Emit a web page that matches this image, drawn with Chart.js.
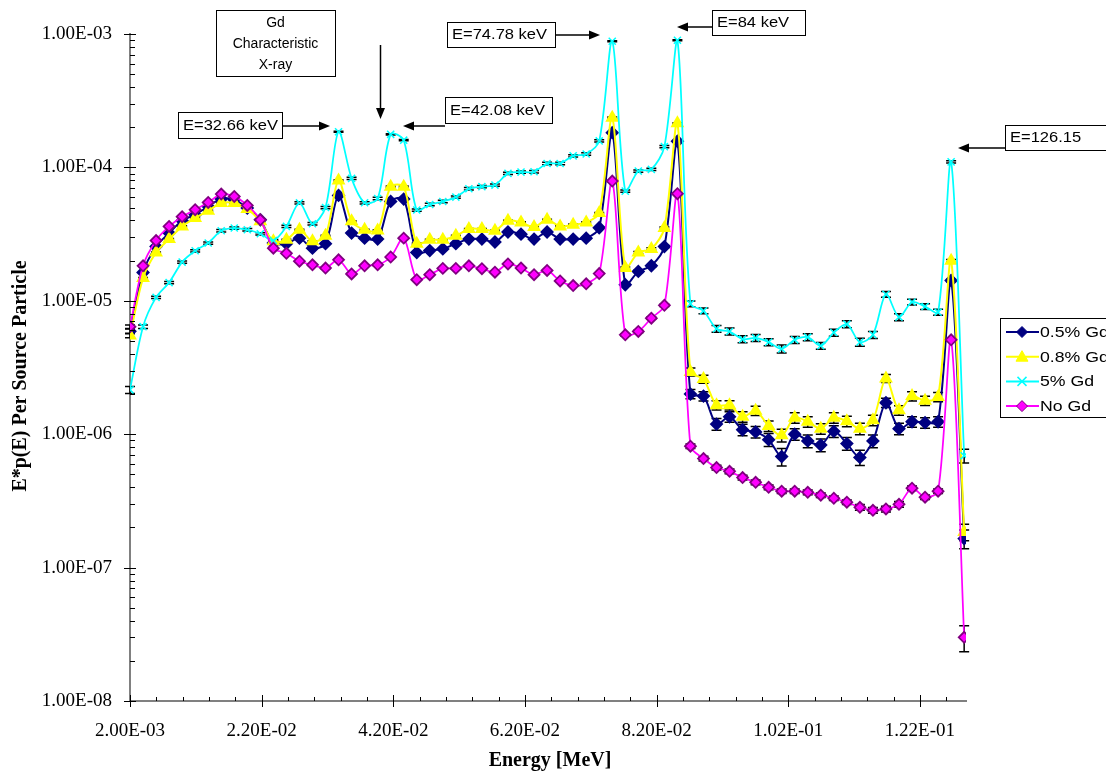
<!DOCTYPE html>
<html>
<head>
<meta charset="utf-8">
<title>Gd spectrum</title>
<style>
  html, body { margin: 0; padding: 0; background: #fff; }
  canvas { display: block; }
</style>
</head>
<body>
<canvas id="chart1" width="1106" height="772"></canvas>
<script src="https://cdn.jsdelivr.net/npm/chart.js@4.4.1/dist/chart.umd.min.js"></script>
<script>
// energy bins (MeV)
var energy = [0.00200, 0.00398, 0.00596, 0.00794, 0.00992, 0.01190, 0.01388, 0.01586, 0.01784, 0.01982,
	0.02180, 0.02378, 0.02576, 0.02774, 0.02972, 0.03170, 0.03368, 0.03566, 0.03764, 0.03962,
	0.04160, 0.04358, 0.04556, 0.04754, 0.04952, 0.05150, 0.05348, 0.05546, 0.05744, 0.05942,
	0.06140, 0.06338, 0.06536, 0.06734, 0.06932, 0.07130, 0.07328, 0.07526, 0.07724, 0.07922,
	0.08120, 0.08318, 0.08516, 0.08714, 0.08912, 0.09110, 0.09308, 0.09506, 0.09704, 0.09902,
	0.10100, 0.10298, 0.10496, 0.10694, 0.10892, 0.11090, 0.11288, 0.11486, 0.11684, 0.11882,
	0.12080, 0.12278, 0.12476, 0.12674, 0.12872];

var gd05 = [5.9e-6, 1.63e-5, 2.55e-5, 3.22e-5, 3.98e-5, 4.42e-5, 5.1e-5, 5.79e-5, 5.73e-5, 4.96e-5,
	4.05e-5, 2.71e-5, 2.68e-5, 2.95e-5, 2.48e-5, 2.68e-5, 6.17e-5, 3.22e-5, 2.95e-5, 2.9e-5,
	5.56e-5, 5.79e-5, 2.3e-5, 2.38e-5, 2.45e-5, 2.68e-5, 2.9e-5, 2.9e-5, 2.76e-5, 3.28e-5,
	3.16e-5, 2.9e-5, 3.28e-5, 2.9e-5, 2.9e-5, 2.95e-5, 3.53e-5, 1.82e-4, 1.32e-5, 1.66e-5,
	1.83e-5, 2.55e-5, 1.57e-4, 2.0e-6, 1.93e-6, 1.19e-6, 1.35e-6, 1.08e-6, 1.04e-6, 9.1e-7,
	6.8e-7, 1.0e-6, 8.9e-7, 8.3e-7, 1.05e-6, 8.5e-7, 6.7e-7, 8.9e-7, 1.72e-6, 1.10e-6,
	1.24e-6, 1.22e-6, 1.24e-6, 1.42e-5, 1.65e-7];

var gd08 = [5.5e-6, 1.48e-5, 2.3e-5, 2.9e-5, 3.61e-5, 4.17e-5, 4.73e-5, 5.41e-5, 5.41e-5, 4.88e-5,
	3.94e-5, 2.79e-5, 2.87e-5, 3.41e-5, 2.79e-5, 3.07e-5, 7.99e-5, 3.94e-5, 3.41e-5, 3.37e-5,
	7.17e-5, 7.17e-5, 2.68e-5, 2.87e-5, 2.87e-5, 3.07e-5, 3.45e-5, 3.45e-5, 3.35e-5, 3.98e-5,
	3.87e-5, 3.57e-5, 4.05e-5, 3.61e-5, 3.72e-5, 3.87e-5, 4.55e-5, 2.36e-4, 1.76e-5, 2.3e-5,
	2.45e-5, 3.51e-5, 2.14e-4, 2.93e-6, 2.59e-6, 1.65e-6, 1.65e-6, 1.35e-6, 1.5e-6, 1.15e-6,
	9.8e-7, 1.33e-6, 1.24e-6, 1.1e-6, 1.33e-6, 1.25e-6, 1.1e-6, 1.27e-6, 2.62e-6, 1.51e-6,
	1.93e-6, 1.78e-6, 1.9e-6, 2.0e-5, 1.85e-7];

var gd5 = [2.15e-6, 6.4e-6, 1.06e-5, 1.37e-5, 1.95e-5, 2.37e-5, 2.71e-5, 3.35e-5, 3.51e-5, 3.41e-5,
	3.18e-5, 2.83e-5, 3.61e-5, 5.42e-5, 3.78e-5, 5.0e-5, 1.85e-4, 8.27e-5, 5.43e-5, 5.85e-5,
	1.77e-4, 1.6e-4, 4.79e-5, 5.27e-5, 5.55e-5, 5.99e-5, 6.92e-5, 7.17e-5, 7.37e-5, 9.02e-5,
	9.22e-5, 9.28e-5, 1.07e-4, 1.07e-4, 1.22e-4, 1.26e-4, 1.58e-4, 8.83e-4, 6.64e-5, 9.38e-5,
	9.66e-5, 1.43e-4, 8.98e-4, 9.5e-6, 8.41e-6, 6.17e-6, 5.89e-6, 5.16e-6, 5.27e-6, 4.9e-6,
	4.36e-6, 5.1e-6, 5.34e-6, 4.6e-6, 5.78e-6, 6.68e-6, 4.9e-6, 5.56e-6, 1.12e-5, 7.55e-6,
	9.8e-6, 9.06e-6, 8.22e-6, 1.1e-4, 6.9e-7];

var noGd = [6.4e-6, 1.83e-5, 2.83e-5, 3.61e-5, 4.27e-5, 4.82e-5, 5.46e-5, 6.31e-5, 6.06e-5, 5.19e-5,
	4.05e-5, 2.48e-5, 2.27e-5, 1.98e-5, 1.86e-5, 1.76e-5, 2.03e-5, 1.59e-5, 1.83e-5, 1.86e-5,
	2.13e-5, 2.95e-5, 1.44e-5, 1.57e-5, 1.75e-5, 1.75e-5, 1.83e-5, 1.74e-5, 1.64e-5, 1.89e-5,
	1.76e-5, 1.57e-5, 1.69e-5, 1.41e-5, 1.30e-5, 1.34e-5, 1.6e-5, 7.9e-5, 5.56e-6, 5.89e-6,
	7.41e-6, 9.25e-6, 6.35e-5, 8.13e-7, 6.57e-7, 5.62e-7, 5.27e-7, 4.73e-7, 4.36e-7, 4.0e-7,
	3.74e-7, 3.74e-7, 3.67e-7, 3.49e-7, 3.31e-7, 3.09e-7, 2.83e-7, 2.69e-7, 2.75e-7, 2.98e-7,
	3.94e-7, 3.37e-7, 3.74e-7, 5.1e-6, 3.0e-8];

// relative statistical error, percent
var err05 = [4, 1, 1, 1, 1, 1, 1, 1, 1, 1, 1, 1, 1, 1, 1, 1, 1, 1, 1, 1,
	1, 1, 1, 1, 1, 1, 1, 1, 1, 1, 1, 1, 1, 1, 1, 1, 1, 1, 2, 2,
	2, 2, 1, 8, 8, 10, 9, 10, 10, 11, 15, 10, 11, 11, 10, 11, 13, 11, 8, 10,
	9, 9, 9, 2, 16];
var err08 = [4, 1, 1, 1, 1, 1, 1, 1, 1, 1, 1, 1, 1, 1, 1, 1, 1, 1, 1, 1,
	1, 1, 1, 1, 1, 1, 1, 1, 1, 1, 1, 1, 1, 1, 1, 1, 1, 1, 2, 2,
	2, 2, 1, 7, 7, 8, 8, 9, 8, 9, 11, 9, 9, 9, 9, 9, 10, 9, 7, 8,
	8, 8, 8, 2, 14];
var err5 = [6, 3, 2, 2, 2, 2, 2, 2, 2, 2, 2, 2, 2, 2, 2, 2, 1, 2, 2, 2,
	1, 1, 2, 2, 2, 2, 2, 2, 2, 2, 2, 2, 2, 2, 2, 2, 2, 1, 2, 2,
	2, 2, 1, 5, 5, 6, 6, 6, 6, 6, 7, 6, 6, 6, 6, 6, 7, 6, 5, 6,
	5, 5, 5, 2, 12];
var errNo = [3, 1, 1, 1, 1, 1, 1, 1, 1, 1, 1, 1, 1, 1, 1, 1, 1, 1, 1, 1,
	1, 1, 1, 1, 1, 1, 1, 1, 1, 1, 1, 1, 1, 1, 1, 1, 1, 1, 2, 2,
	2, 2, 1, 4, 4, 4, 4, 4, 4, 4, 4, 4, 4, 4, 4, 4, 5, 5, 5, 5,
	4, 4, 4, 2, 22];

var seriesNames = ['0.5% Gd', '0.8% Gd', '5% Gd', 'No Gd'];
var xTickValues = [0.002, 0.022, 0.042, 0.062, 0.082, 0.102, 0.122];
var yTickValues = [1e-8, 1e-7, 1e-6, 1e-5, 1e-4, 1e-3];

var noteTexts = [['Gd', 'Characteristic', 'X-ray'], ['E=32.66 keV'], ['E=42.08 keV'],
	['E=74.78 keV'], ['E=84 keV'], ['E=126.15']];

function fmtE(v) {
	var s = Number(v).toExponential(2).toUpperCase();
	return s.replace(/E([+-])(\d)$/, function (m, sg, d) { return 'E' + sg + '0' + d; });
}

function toPoints(arr) {
	return arr.map(function (v, i) { return { x: energy[i], y: v }; });
}

var errors = [err05, err08, err5, errNo];

var errorBars = {
	id: 'errorBars',
	beforeDatasetsDraw: function (chart) {
		var ctx = chart.ctx, xs = chart.scales.x, ys = chart.scales.y;
		ctx.save();
		ctx.strokeStyle = '#000';
		ctx.lineWidth = 1.5;
		chart.data.datasets.forEach(function (ds, i) {
			ds.data.forEach(function (p, k) {
				var e = p.y * errors[i][k] / 100;
				var x = xs.getPixelForValue(p.x);
				var y1 = ys.getPixelForValue(p.y + e);
				var y2 = ys.getPixelForValue(p.y - e);
				ctx.beginPath();
				ctx.moveTo(x, y1); ctx.lineTo(x, y2);
				ctx.moveTo(x - 5, y1); ctx.lineTo(x + 5, y1);
				ctx.moveTo(x - 5, y2); ctx.lineTo(x + 5, y2);
				ctx.stroke();
			});
		});
		ctx.restore();
	}
};

function arrow(ctx, x1, y1, x2, y2) {
	var a = Math.atan2(y2 - y1, x2 - x1);
	ctx.beginPath();
	ctx.moveTo(x1, y1);
	ctx.lineTo(x2 - 9 * Math.cos(a), y2 - 9 * Math.sin(a));
	ctx.stroke();
	ctx.beginPath();
	ctx.moveTo(x2, y2);
	ctx.lineTo(x2 - 11 * Math.cos(a) + 4.5 * Math.sin(a), y2 - 11 * Math.sin(a) - 4.5 * Math.cos(a));
	ctx.lineTo(x2 - 11 * Math.cos(a) - 4.5 * Math.sin(a), y2 - 11 * Math.sin(a) + 4.5 * Math.cos(a));
	ctx.closePath();
	ctx.fill();
}

// text drawn a little wider than the font, like the original export
function wideText(ctx, t, x, y, sx) {
	ctx.save();
	ctx.translate(x, y);
	ctx.scale(sx, 1);
	ctx.fillText(t, 0, 0);
	ctx.restore();
}

function marker(ctx, style, x, y, fill, stroke) {
	ctx.fillStyle = fill;
	ctx.strokeStyle = stroke;
	ctx.lineWidth = 1;
	ctx.beginPath();
	if (style == 'rectRot') {
		ctx.moveTo(x, y - 5.5); ctx.lineTo(x + 5.5, y); ctx.lineTo(x, y + 5.5); ctx.lineTo(x - 5.5, y);
		ctx.closePath(); ctx.fill(); ctx.stroke();
	} else if (style == 'triangle') {
		ctx.moveTo(x, y - 6); ctx.lineTo(x + 6, y + 4.5); ctx.lineTo(x - 6, y + 4.5);
		ctx.closePath(); ctx.fill(); ctx.stroke();
	} else {
		ctx.lineWidth = 1.5;
		ctx.moveTo(x - 4.5, y - 4.5); ctx.lineTo(x + 4.5, y + 4.5);
		ctx.moveTo(x + 4.5, y - 4.5); ctx.lineTo(x - 4.5, y + 4.5);
		ctx.stroke();
	}
}

var decorations = {
	id: 'decorations',
	afterDraw: function (chart) {
		var ctx = chart.ctx, xs = chart.scales.x, ys = chart.scales.y, a = chart.chartArea;
		ctx.save();
		// tick marks
		ctx.strokeStyle = '#000';
		ctx.lineWidth = 1;
		ctx.beginPath();
		for (var i = 0; i <= 31; i++) {
			var px = Math.round(xs.getPixelForValue(0.002 + i * 0.004)) + 0.5;
			if (px > a.right + 1) break;
			if (i % 5 == 0) { ctx.moveTo(px, a.bottom - 6); ctx.lineTo(px, a.bottom + 6); }
			else { ctx.moveTo(px, a.bottom - 4); ctx.lineTo(px, a.bottom); }
		}
		for (var d = -8; d <= -3; d++) {
			var py = Math.round(ys.getPixelForValue(Math.pow(10, d))) + 0.5;
			ctx.moveTo(a.left - 6, py); ctx.lineTo(a.left + 6, py);
			if (d == -3) continue;
			for (var m = 2; m <= 9; m++) {
				var pm = Math.round(ys.getPixelForValue(m * Math.pow(10, d))) + 0.5;
				ctx.moveTo(a.left, pm); ctx.lineTo(a.left + 5, pm);
			}
		}
		ctx.stroke();

		// axis titles
		ctx.fillStyle = '#000';
		ctx.font = 'bold 20px "Liberation Serif"';
		ctx.textAlign = 'center';
		ctx.textBaseline = 'middle';
		ctx.fillText('Energy [MeV]', (a.left + a.right) / 2 + 2, 761);
		ctx.save();
		ctx.translate(21, 376);
		ctx.rotate(-Math.PI / 2);
		ctx.fillText('E*p(E) Per Source Particle', 0, 0);
		ctx.restore();

		// annotation boxes
		var boxes = [[216, 10, 119, 66], [178, 112, 104, 26], [445, 97, 107, 26],
			[447, 22, 108, 25], [712, 10, 93, 25], [1005, 125, 130, 25]];
		ctx.font = '14px "Liberation Sans"';
		boxes.forEach(function (b, i) {
			ctx.fillStyle = '#fff';
			ctx.fillRect(b[0] + 0.5, b[1] + 0.5, b[2], b[3]);
			ctx.strokeStyle = '#000';
			ctx.lineWidth = 1;
			ctx.strokeRect(b[0] + 0.5, b[1] + 0.5, b[2], b[3]);
			ctx.fillStyle = '#000';
			var lines = noteTexts[i];
			if (lines.length > 1) {
				ctx.textAlign = 'center';
				lines.forEach(function (t, j) { ctx.fillText(t, b[0] + b[2] / 2, b[1] + 13 + j * 21); });
			} else {
				ctx.textAlign = 'left';
				wideText(ctx, lines[0], b[0] + 5, b[1] + b[3] / 2 + 1, 1.18);
			}
		});
		ctx.strokeStyle = '#000';
		ctx.fillStyle = '#000';
		ctx.lineWidth = 1.5;
		arrow(ctx, 380.5, 45, 380.5, 119);
		arrow(ctx, 282, 126, 330, 126);
		arrow(ctx, 445, 126, 403, 126);
		arrow(ctx, 555, 35, 600, 35);
		arrow(ctx, 712, 27, 677, 27);
		arrow(ctx, 1005, 148, 958, 148);

		// legend
		ctx.lineWidth = 1;
		ctx.fillStyle = '#fff';
		ctx.fillRect(1000.5, 318.5, 130, 99);
		ctx.strokeStyle = '#000';
		ctx.strokeRect(1000.5, 318.5, 130, 99);
		ctx.font = '14.5px "Liberation Sans"';
		ctx.textAlign = 'left';
		chart.data.datasets.forEach(function (ds, i) {
			var ly = 332 + i * 24.7;
			ctx.strokeStyle = ds.borderColor;
			ctx.lineWidth = 2;
			ctx.beginPath(); ctx.moveTo(1006, ly); ctx.lineTo(1039, ly); ctx.stroke();
			marker(ctx, ds.pointStyle, 1022, ly, ds.pointBackgroundColor, ds.pointBorderColor);
			ctx.fillStyle = '#000';
			wideText(ctx, seriesNames[i], 1040, ly + 1, 1.22);
		});
		ctx.restore();
	}
};

var ctx1 = document.getElementById('chart1').getContext('2d');
var chart1 = new Chart(ctx1, {
	type: 'line',
	data: {
		datasets: [
			{
				label: seriesNames[0], data: toPoints(gd05), order: 4,
				borderColor: '#000080', pointBackgroundColor: '#000080', pointBorderColor: '#000080',
				pointStyle: 'rectRot', pointRadius: 5.5, borderWidth: 2
			},
			{
				label: seriesNames[1], data: toPoints(gd08), order: 3,
				borderColor: '#FFFF00', pointBackgroundColor: '#FFFF00', pointBorderColor: '#FFFF00',
				pointStyle: 'triangle', pointRadius: 6, borderWidth: 2
			},
			{
				label: seriesNames[2], data: toPoints(gd5), order: 2,
				borderColor: '#00FFFF', pointBackgroundColor: '#00FFFF', pointBorderColor: '#00FFFF',
				pointStyle: 'crossRot', pointRadius: 5, pointBorderWidth: 1.5, borderWidth: 1.75
			},
			{
				label: seriesNames[3], data: toPoints(noGd), order: 1,
				borderColor: '#FF00FF', pointBackgroundColor: '#FF00FF', pointBorderColor: '#800080',
				pointStyle: 'rectRot', pointRadius: 5.5, borderWidth: 1.75
			}
		]
	},
	options: {
		responsive: false,
		animation: false,
		devicePixelRatio: 1,
		elements: { line: { tension: 0.3 }, point: { borderWidth: 1 } },
		layout: { padding: { top: 34, right: 140, left: 0, bottom: 0 } },
		plugins: { legend: { display: false }, tooltip: { enabled: false } },
		scales: {
			x: {
				type: 'linear', min: 0.002, max: 0.129,
				grid: { display: false, drawTicks: false },
				border: { display: true, color: '#808080', width: 2 },
				afterBuildTicks: function (s) { s.ticks = xTickValues.map(function (v) { return { value: v }; }); },
				afterFit: function (s) { s.height = 71; },
				ticks: {
					autoSkip: false, maxRotation: 0, padding: 19, color: '#000',
					font: { family: 'Liberation Serif', size: 19 },
					callback: function (v) { return fmtE(v); }
				}
			},
			y: {
				type: 'logarithmic', min: 1e-8, max: 1e-3,
				grid: { display: false, drawTicks: false },
				border: { display: true, color: '#808080', width: 2 },
				afterBuildTicks: function (s) { s.ticks = yTickValues.map(function (v) { return { value: v }; }); },
				afterFit: function (s) { s.width = 130; },
				ticks: {
					autoSkip: false, padding: 18, color: '#000',
					font: { family: 'Liberation Serif', size: 19 },
					callback: function (v) { return fmtE(v); }
				}
			}
		}
	},
	plugins: [errorBars, decorations]
});
</script>
</body>
</html>
